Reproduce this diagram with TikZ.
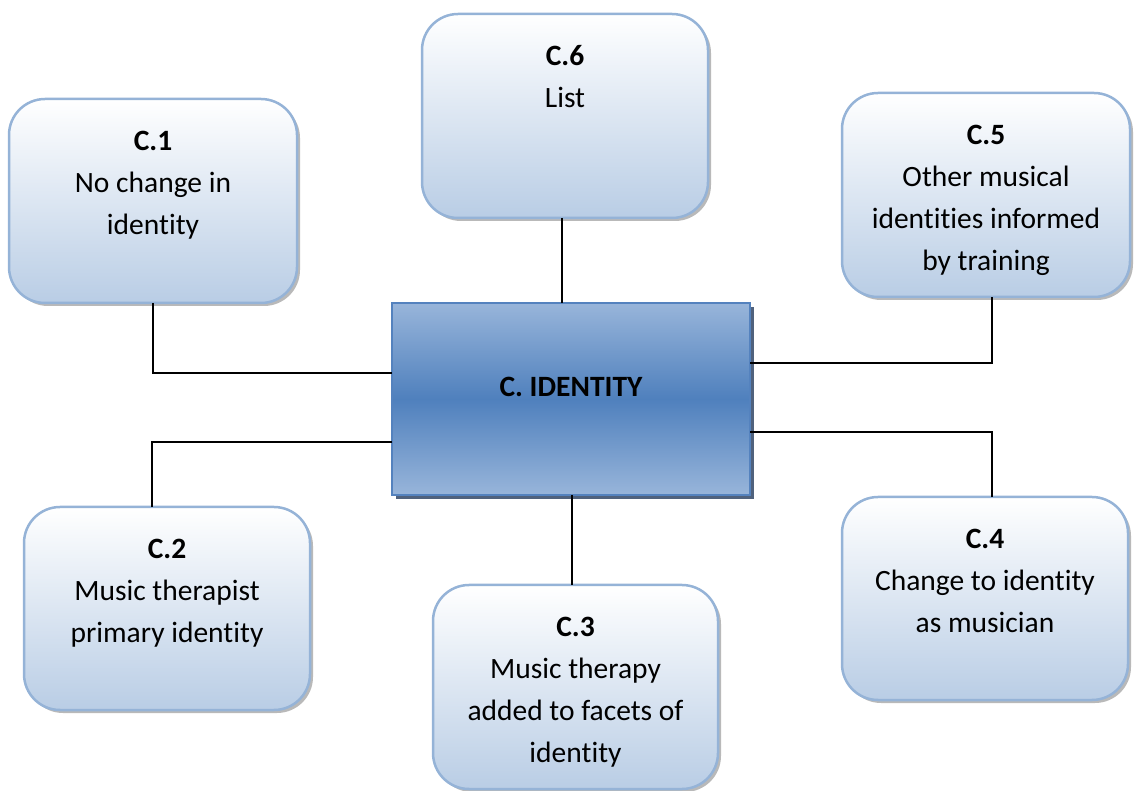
\documentclass[tikz,border=0pt]{standalone}
\usepackage{fontspec}
\setmainfont{Carlito}[Ligatures=CommonOff]
\usetikzlibrary{shadows}
\definecolor{boxborder}{RGB}{149,179,215}
\definecolor{boxbottom}{RGB}{185,205,229}
\definecolor{cenlight}{RGB}{152,181,218}
\definecolor{cenmid}{RGB}{79,128,189}
\definecolor{cenborder}{RGB}{84,130,190}
\definecolor{censhadow}{RGB}{80,98,125}
\begin{document}
\begin{tikzpicture}[x=1pt,y=1pt,
  catbox/.style={draw=boxborder, line width=2.5pt, rounded corners=36pt,
    top color=white, bottom color=boxbottom, minimum width=#1, minimum height=204pt,
    inner sep=0pt, outer sep=0pt,
    drop shadow={shadow xshift=3pt, shadow yshift=-3pt, fill=black!50, opacity=0.55}},
  catbox/.default=286pt,
  cenbox/.style={draw=cenborder, line width=2.5pt, minimum width=358pt, minimum height=192pt,
    inner sep=0pt, outer sep=0pt, top color=cenlight, bottom color=cenlight, middle color=cenmid,
    drop shadow={shadow xshift=4pt, shadow yshift=-4pt, fill=censhadow, opacity=1}},
  lbl/.style={align=center, anchor=north, inner sep=0pt, font=\fontsize{29.5}{42}\selectfont},
  link/.style={draw=black, line width=2pt}
]
\useasboundingbox (0,0) rectangle (1135,790);

% boxes
\node[catbox] (b6) at (565,674) {};
\node[catbox=288pt] (b1) at (153,589) {};
\node[catbox=288pt] (b5) at (986,595) {};
\node[catbox, minimum height=203pt] (b2) at (167,181.5) {};
\node[catbox=285pt] (b3) at (575.5,103) {};
\node[catbox, minimum height=203pt] (b4) at (985,191.5) {};
\node[cenbox] (c) at (571,391) {};

% connectors
\draw[link] ([xshift=-3pt]b6.south) -- ([xshift=-3pt]b6.south |- c.north);
\draw[link] (b1.south) |- ([yshift=26pt]c.west);
\draw[link] ([yshift=-43pt]c.west) -| ([xshift=-15pt]b2.north);
\draw[link] ([xshift=1pt]c.south) -- ([xshift=1pt]c.south |- b3.north);
\draw[link] ([yshift=-33pt]c.east) -| ([xshift=7pt]b4.north);
\draw[link] ([yshift=36pt]c.east) -| ([xshift=6pt]b5.south);

% texts
\node[lbl] (t6) at ([yshift=-30pt]b6.north) {\rule{0pt}{21pt}\textbf{C.6}\\List};
\node[lbl] (t1) at ([yshift=-30pt]b1.north) {\rule{0pt}{21pt}\textbf{C.1}\\No change in\\identity};
\node[lbl] (t5) at ([yshift=-30pt]b5.north) {\rule{0pt}{21pt}\textbf{C.5}\\Other musical\\identities informed\\by training};
\node[lbl] (t2) at ([yshift=-30pt]b2.north) {\rule{0pt}{21pt}\textbf{C.2}\\Music therapist\\primary identity};
\node[lbl] (t3) at ([yshift=-30pt]b3.north) {\rule{0pt}{21pt}\textbf{C.3}\\Music therapy\\added to facets of\\identity};
\node[lbl] (t4) at ([yshift=-30pt]b4.north) {\rule{0pt}{21pt}\textbf{C.4}\\Change to identity\\as musician};
\node[anchor=base, inner sep=0pt, font=\fontsize{29.5}{42}\selectfont\bfseries] (tc) at (571,393) {C. IDENTITY};
\end{tikzpicture}
\end{document}
